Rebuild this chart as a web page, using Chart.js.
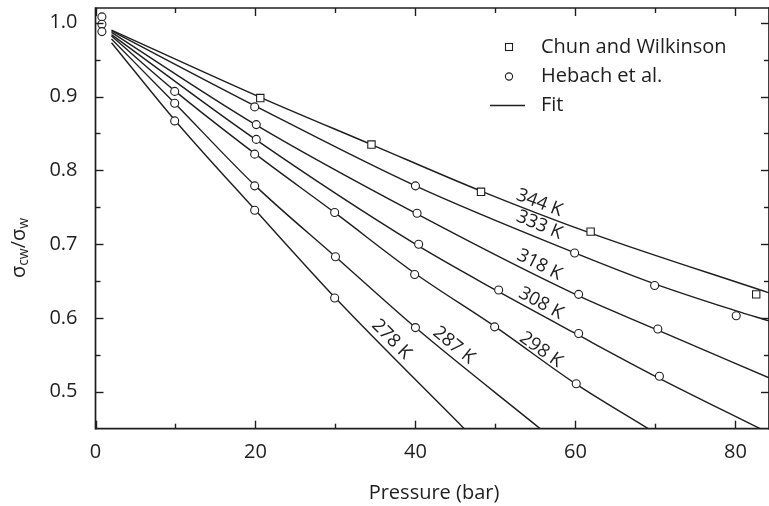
<!DOCTYPE html>
<html>
<head>
<meta charset="utf-8">
<script src="https://cdn.jsdelivr.net/npm/chart.js@4.4.0/dist/chart.umd.min.js"></script>
<style>
  html, body { margin: 0; padding: 0; background: #fff; overflow: hidden; }
  #wrap { position: relative; width: 769px; height: 506px; }
</style>
</head>
<body>
<div id="wrap"><canvas id="grafico"></canvas></div>
<script>
// Chun and Wilkinson, 344 K
const chunP = [20.6, 34.5, 48.2, 61.9, 82.6];
const chunRatio = [0.898, 0.835, 0.771, 0.717, 0.632];

// Hebach et al., one pair of arrays per isotherm
const heb0P = [0.8, 0.8, 0.8];
const heb0Ratio = [1.008, 0.998, 0.988];
const heb333P = [19.9, 40.0, 59.9, 69.9, 80.1];
const heb333Ratio = [0.886, 0.779, 0.688, 0.644, 0.603];
const heb318P = [20.1, 40.2, 60.4, 70.3];
const heb318Ratio = [0.862, 0.742, 0.632, 0.585];
const heb308P = [20.1, 40.4, 50.4, 60.4, 70.5];
const heb308Ratio = [0.842, 0.700, 0.638, 0.579, 0.521];
const heb298P = [9.9, 19.9, 29.9, 39.9, 49.9, 60.1];
const heb298Ratio = [0.907, 0.822, 0.743, 0.659, 0.588, 0.511];
const heb287P = [9.9, 19.9, 30.0, 40.0];
const heb287Ratio = [0.891, 0.779, 0.683, 0.587];
const heb278P = [9.9, 19.9, 29.9];
const heb278Ratio = [0.867, 0.746, 0.627];

// fitted curves
const fitNames = ['344 K', '333 K', '318 K', '308 K', '298 K', '287 K', '278 K'];
const fitP = [
  [2, 20.6, 34.5, 48.2, 61.9, 84.2],
  [2, 20, 40, 60, 70, 80, 84.2],
  [2, 20, 40, 60, 70, 84.2],
  [2, 20, 40, 50, 60, 70, 83.1],
  [2, 10, 20, 30, 40, 50, 60, 69.1],
  [2, 10, 20, 30, 40, 55.6],
  [2, 10, 20, 30, 46.1]
];
const fitRatio = [
  [0.990, 0.899, 0.835, 0.772, 0.715, 0.634],
  [0.989, 0.887, 0.779, 0.688, 0.646, 0.610, 0.596],
  [0.987, 0.862, 0.742, 0.632, 0.585, 0.519],
  [0.984, 0.842, 0.700, 0.638, 0.579, 0.521, 0.450],
  [0.982, 0.907, 0.822, 0.742, 0.660, 0.588, 0.511, 0.450],
  [0.978, 0.890, 0.779, 0.683, 0.587, 0.450],
  [0.973, 0.867, 0.746, 0.627, 0.450]
];

// axis ticks
const xMajor = [0, 20, 40, 60, 80];
const xMinor = [10, 30, 50, 70];
const yMajor = [0.5, 0.6, 0.7, 0.8, 0.9, 1.0];
const yMinor = [0.55, 0.65, 0.75, 0.85, 0.95];

// where each curve name sits (pressure, ratio)
const curveLabelAt = [
  [55.5, 0.756], [55.5, 0.726], [55.5, 0.672], [55.7, 0.620],
  [55.7, 0.557], [44.8, 0.563], [37.0, 0.571]
];

const FONT = '"Open Sans", sans-serif';
const INK = '#1e1e1e';

function pts(xs, ys) {
  return xs.map((x, i) => ({ x: x, y: ys[i] }));
}

const datasets = [];
fitNames.forEach((name, i) => {
  datasets.push({
    label: name,
    data: pts(fitP[i], fitRatio[i]),
    showLine: true,
    borderColor: INK,
    borderWidth: 1.4,
    pointRadius: 0,
    cubicInterpolationMode: 'monotone',
    order: 2
  });
});
datasets.push({
  label: 'Chun and Wilkinson',
  data: pts(chunP, chunRatio),
  pointStyle: 'rect',
  pointRadius: 5.2,
  pointBackgroundColor: '#fff',
  pointBorderColor: INK,
  pointBorderWidth: 1.1,
  showLine: false,
  order: 1
});
const hebP = [].concat(heb0P, heb333P, heb318P, heb308P, heb298P, heb287P, heb278P);
const hebRatio = [].concat(heb0Ratio, heb333Ratio, heb318Ratio, heb308Ratio, heb298Ratio, heb287Ratio, heb278Ratio);
datasets.push({
  label: 'Hebach et al.',
  data: pts(hebP, hebRatio),
  pointStyle: 'circle',
  pointRadius: 4,
  pointBackgroundColor: '#fff',
  pointBorderColor: INK,
  pointBorderWidth: 1.1,
  showLine: false,
  order: 1
});

function line(ctx, x1, y1, x2, y2) {
  ctx.beginPath();
  ctx.moveTo(x1, y1);
  ctx.lineTo(x2, y2);
  ctx.stroke();
}

// frame, inward ticks, tick labels, titles, legend and curve names
const decor = {
  id: 'decor',
  afterDatasetsDraw(chart) {
    const ctx = chart.ctx;
    const a = chart.chartArea;
    const xs = chart.scales.x, ys = chart.scales.y;
    ctx.save();
    ctx.strokeStyle = INK;
    ctx.fillStyle = INK;
    ctx.lineWidth = 1.7;
    line(ctx, a.left, a.top, a.right, a.top);
    line(ctx, a.left, a.bottom, a.right, a.bottom);
    line(ctx, a.left, a.top - 0.85, a.left, a.bottom + 0.85);
    line(ctx, a.right, a.top - 0.85, a.right, a.bottom + 0.85);

    ctx.lineWidth = 1.4;
    [[xMajor, 8], [xMinor, 5]].forEach(([vals, len]) => vals.forEach(v => {
      const px = Math.round(xs.getPixelForValue(v)) + 0.5;
      line(ctx, px, a.bottom, px, a.bottom - len);
      line(ctx, px, a.top, px, a.top + len);
    }));
    [[yMajor, 8], [yMinor, 5]].forEach(([vals, len]) => vals.forEach(v => {
      const py = Math.round(ys.getPixelForValue(v)) + 0.5;
      line(ctx, a.left, py, a.left + len, py);
      line(ctx, a.right, py, a.right - len, py);
    }));

    // tick labels
    ctx.font = '20px ' + FONT;
    ctx.textBaseline = 'middle';
    ctx.textAlign = 'center';
    xMajor.forEach(v => ctx.fillText(String(v), xs.getPixelForValue(v), a.bottom + 24));
    ctx.textAlign = 'right';
    yMajor.forEach(v => ctx.fillText(v.toFixed(1), a.left - 18, ys.getPixelForValue(v)));

    // curve names, turned along the local slope
    ctx.font = '18.5px ' + FONT;
    ctx.textAlign = 'center';
    curveLabelAt.forEach(([p, r], i) => {
      const xsArr = fitP[i], ysArr = fitRatio[i];
      let k = 0;
      while (k < xsArr.length - 2 && xsArr[k + 1] < p) k++;
      const dx = xs.getPixelForValue(xsArr[k + 1]) - xs.getPixelForValue(xsArr[k]);
      const dy = ys.getPixelForValue(ysArr[k + 1]) - ys.getPixelForValue(ysArr[k]);
      ctx.save();
      ctx.translate(xs.getPixelForValue(p), ys.getPixelForValue(r));
      ctx.rotate(Math.atan2(dy, dx));
      ctx.fillText(fitNames[i], 0, 0);
      ctx.restore();
    });

    // x title
    ctx.font = '20px ' + FONT;
    ctx.fillText('Pressure (bar)', 434, 493);

    // y title with subscripts
    ctx.save();
    ctx.translate(19, 248);
    ctx.rotate(-Math.PI / 2);
    const parts = [['σ', 20, 0], ['cw', 14, 5], ['/', 20, 0], ['σ', 20, 0], ['w', 14, 5]];
    let total = 0;
    parts.forEach(([t, s]) => { ctx.font = s + 'px ' + FONT; total += ctx.measureText(t).width; });
    let cx = -total / 2;
    ctx.textAlign = 'left';
    parts.forEach(([t, s, off]) => {
      ctx.font = s + 'px ' + FONT;
      ctx.fillText(t, cx, off);
      cx += ctx.measureText(t).width;
    });
    ctx.restore();

    // legend
    ctx.textAlign = 'left';
    ctx.font = '20px ' + FONT;
    ctx.lineWidth = 1.1;
    ctx.strokeRect(505.5, 43.5, 7, 7);
    ctx.fillText('Chun and Wilkinson', 541, 47);
    ctx.beginPath(); ctx.arc(509, 76.5, 3.6, 0, Math.PI * 2); ctx.stroke();
    ctx.fillText('Hebach et al.', 541, 76);
    ctx.lineWidth = 1.4;
    line(ctx, 490, 105.5, 525, 105.5);
    ctx.fillText('Fit', 541, 105);
    ctx.restore();
  }
};

const ctx = document.getElementById('grafico').getContext('2d');
new Chart(ctx, {
  type: 'scatter',
  data: { datasets: datasets },
  plugins: [decor],
  options: {
    responsive: true,
    maintainAspectRatio: false,
    animation: false,
    devicePixelRatio: 1,
    layout: { autoPadding: false, padding: { top: 8, right: 0, left: 0, bottom: 0 } },
    plugins: { legend: { display: false }, tooltip: { enabled: false } },
    scales: {
      x: {
        type: 'linear',
        min: 0,
        max: 84.2,
        grid: { display: false, drawTicks: false },
        border: { display: false },
        ticks: { display: false },
        afterFit: s => { s.height = 77.3; }
      },
      y: {
        type: 'linear',
        min: 0.45,
        max: 1.02,
        grid: { display: false, drawTicks: false },
        border: { display: false },
        ticks: { display: false },
        afterFit: s => { s.width = 95.5; }
      }
    }
  }
});
</script>
</body>
</html>
